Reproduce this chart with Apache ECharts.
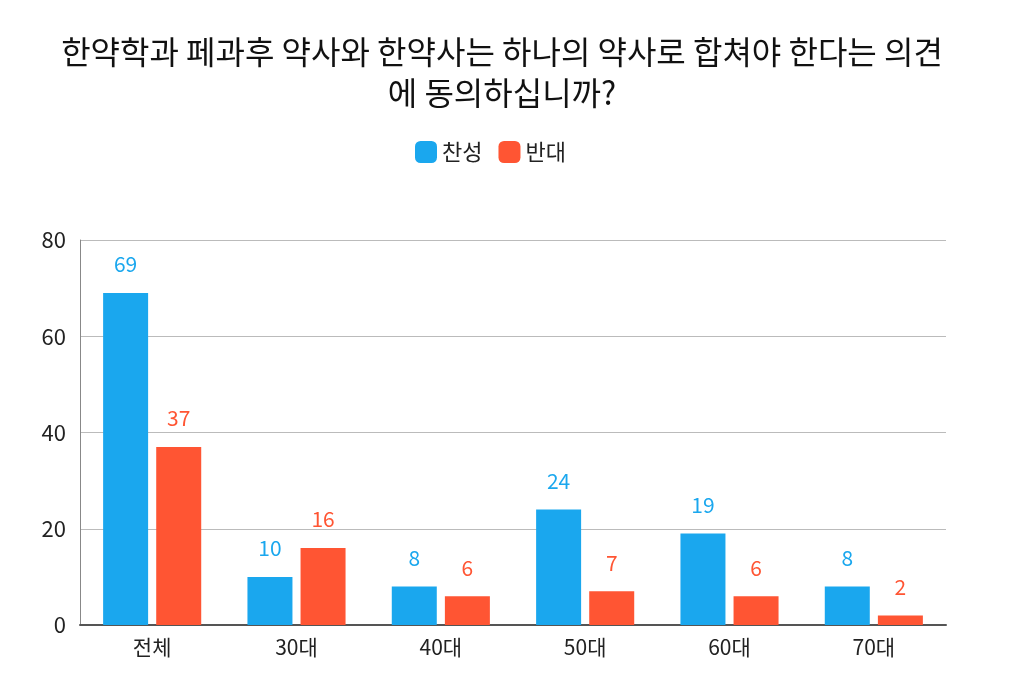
<!DOCTYPE html>
<html>
<head>
<meta charset="utf-8">
<script src="https://cdn.jsdelivr.net/npm/echarts@6/dist/echarts.min.js"></script>
<style>
html,body{margin:0;padding:0;background:#fff;}
#main{width:1030px;height:692px;}
</style>
</head>
<body>
<div id="main"></div>
<script>
var categories = ['전체', '30대', '40대', '50대', '60대', '70대'];
var agree = [69, 10, 8, 24, 19, 8];
var oppose = [37, 16, 6, 7, 6, 2];
var yTicks = [0, 20, 40, 60, 80];

var font = '"Noto Sans CJK KR", "Noto Sans", sans-serif';
var chart = echarts.init(document.getElementById('main'));

chart.setOption({
	animation: false,
	textStyle: { fontFamily: font },
	title: {
		text: '한약학과 페과후 약사와 한약사는 하나의 약사로 합쳐야 한다는 의견\n에 동의하십니까?',
		left: 497,
		top: 26,
		textAlign: 'center',
		textStyle: { fontSize: 32, fontWeight: 'normal', color: '#111', lineHeight: 41, fontFamily: font }
	},
	legend: {
		top: 136,
		left: 410,
		itemWidth: 22,
		itemHeight: 22,
		itemGap: 16,
		icon: 'roundRect',
		textStyle: { fontSize: 22, color: '#222', fontFamily: font },
		data: ['찬성', '반대']
	},
	grid: { left: 80, right: 84, top: 240, bottom: 67 },
	xAxis: {
		type: 'category',
		data: categories,
		axisTick: { show: false },
		axisLine: { lineStyle: { color: '#555', width: 2 } },
		axisLabel: { fontSize: 21, color: '#222', margin: 12, fontFamily: font }
	},
	yAxis: {
		type: 'value',
		min: yTicks[0],
		max: yTicks[yTicks.length - 1],
		interval: 20,
		axisLine: { show: true, lineStyle: { color: '#888', width: 1 } },
		axisTick: { show: false },
		splitLine: { lineStyle: { color: '#bbb' } },
		axisLabel: { fontSize: 22, color: '#222', margin: 14, fontFamily: font }
	},
	series: [
		{
			name: '찬성',
			type: 'bar',
			data: agree,
			barWidth: 45,
			barGap: '18%',
			itemStyle: { color: '#1aa7ee' },
			label: { show: true, position: 'top', distance: 18, fontSize: 21, color: '#1aa7ee', fontFamily: font }
		},
		{
			name: '반대',
			type: 'bar',
			data: oppose,
			barWidth: 45,
			itemStyle: { color: '#ff5533' },
			label: { show: true, position: 'top', distance: 18, fontSize: 21, color: '#ff5533', fontFamily: font }
		}
	]
});
</script>
</body>
</html>
